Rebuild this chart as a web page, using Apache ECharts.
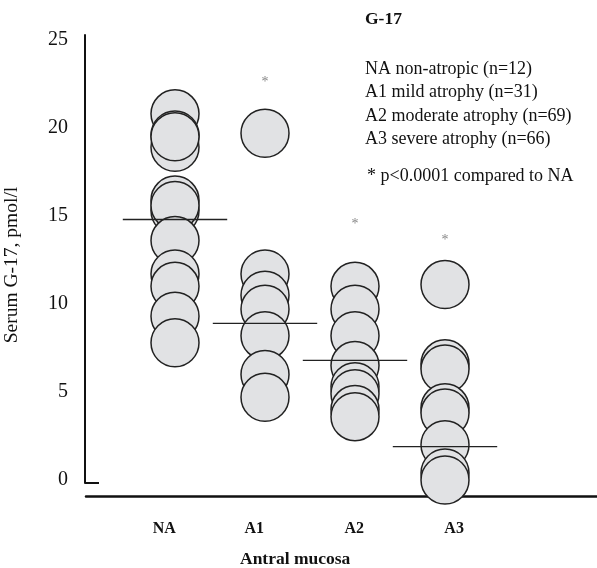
<!DOCTYPE html>
<html>
<head>
<meta charset="utf-8">
<script src="https://cdn.jsdelivr.net/npm/echarts@6/dist/echarts.min.js"></script>
<style>html,body{margin:0;padding:0;background:#fff}#c{width:597px;height:568px}</style>
</head>
<body>
<div id="c"></div>
<script>
const categories = ['NA', 'A1', 'A2', 'A3'];
const catPos = [1, 2, 3, 4];
const naValues = [20.8, 19.6, 18.9, 19.5, 15.9, 15.3, 15.6, 13.6, 11.7, 11.0, 9.3, 7.8];
const a1Values = [19.7, 11.7, 10.5, 9.7, 8.2, 6.0, 4.7];
const a2Values = [11.0, 9.7, 8.2, 6.5, 5.3, 4.9, 4.0, 3.6];
const a3Values = [11.1, 6.6, 6.3, 4.1, 3.8, 2.0, 0.4, 0.0];
const medians = [14.8, 8.9, 6.8, 1.9];
const starValues = [null, 22.6, 14.5, 13.6];
const yTicks = [0, 5, 10, 15, 20, 25];
const xLabelPos = [0.87, 1.87, 2.98, 4.09];
const legendTitle = 'G-17';
const legendLines = ['NA non-atropic (n=12)', 'A1 mild atrophy (n=31)', 'A2 moderate atrophy (n=69)', 'A3 severe atrophy (n=66)'];
const noteLine = '* p<0.0001 compared to NA';
const yName = 'Serum G-17, pmol/l';
const xName = 'Antral mucosa';

const FONT = '"Liberation Serif", "Times New Roman", serif';
const groups = [naValues, a1Values, a2Values, a3Values];
const circleData = [];
groups.forEach((vals, i) => vals.forEach(v => circleData.push([catPos[i], v])));
const starData = [];
starValues.forEach((v, i) => { if (v !== null) starData.push([catPos[i], v]); });
const halfW = 0.58;
const medianSeries = medians.map((m, i) => ({
  type: 'line', xAxisIndex: 0, yAxisIndex: 0, z: 5,
  data: [[catPos[i] - halfW, m], [catPos[i] + halfW, m]],
  symbol: 'none', lineStyle: { color: '#222', width: 1.3 }, silent: true
}));

const chart = echarts.init(document.getElementById('c'));
chart.setOption({
  animation: false,
  backgroundColor: '#fff',
  grid: [
    { left: 85, top: 35, width: 512, height: 448, outerBoundsMode: 'none', containLabel: false },
    { left: 86, top: 495, width: 511, height: 1, outerBoundsMode: 'none', containLabel: false }
  ],
  xAxis: [
    { gridIndex: 0, type: 'value', min: 0, max: 512 / 90, show: false },
    { gridIndex: 1, type: 'value', min: 0, max: 511 / 90,
      axisLine: { show: true, lineStyle: { color: '#111', width: 2.5 } },
      axisTick: { show: false }, splitLine: { show: false },
      axisLabel: { customValues: xLabelPos, formatter: (v) => {
          const idx = xLabelPos.findIndex(p => Math.abs(p - v) < 1e-6);
          return idx >= 0 ? categories[idx] : '';
        }, fontFamily: FONT, fontWeight: 'bold', fontSize: 16, color: '#111', margin: 25 } }
  ],
  yAxis: [
    { gridIndex: 0, type: 'value', min: -0.17, max: 25.28,
      axisLine: { show: true, lineStyle: { color: '#111', width: 2 } },
      axisTick: { show: false }, splitLine: { show: false },
      axisLabel: { customValues: yTicks, fontFamily: FONT, fontSize: 20, color: '#111', margin: 17 },
      name: yName, nameLocation: 'middle', nameGap: 63, nameRotate: 90,
      nameTextStyle: { fontFamily: FONT, fontSize: 19.5, color: '#111', padding: [0, 12, 0, 0] } },
    { gridIndex: 1, type: 'value', show: false }
  ],
  graphic: [
    { type: 'line', shape: { x1: 85, y1: 483, x2: 99, y2: 483 }, style: { stroke: '#111', lineWidth: 2 } },
    { type: 'text', left: 240, top: 550, style: { text: xName, font: 'bold 17.5px ' + FONT, fill: '#111' } },
    { type: 'text', left: 365, top: 10, style: { text: legendTitle, font: 'bold 17.5px ' + FONT, fill: '#111' } },
    ...legendLines.map((t, i) => ({ type: 'text', left: 365, top: 60 + i * 23.5, style: { text: t, font: '18px ' + FONT, fill: '#111' } })),
    { type: 'text', left: 367, top: 167, style: { text: noteLine, font: '18px ' + FONT, fill: '#111' } }
  ],
  series: [
    { type: 'scatter', xAxisIndex: 0, yAxisIndex: 0, clip: false, z: 2,
      data: circleData, symbol: 'circle', symbolSize: 48,
      itemStyle: { color: '#e1e2e4', borderColor: '#222', borderWidth: 1.5, opacity: 1 } },
    ...medianSeries,
    { type: 'scatter', xAxisIndex: 0, yAxisIndex: 0, z: 6, data: starData,
      symbol: 'circle', symbolSize: 0.1, itemStyle: { color: 'rgba(0,0,0,0)' },
      label: { show: true, position: 'inside', formatter: '*', color: '#666', fontSize: 14, fontFamily: FONT } }
  ]
});
</script>
</body>
</html>
